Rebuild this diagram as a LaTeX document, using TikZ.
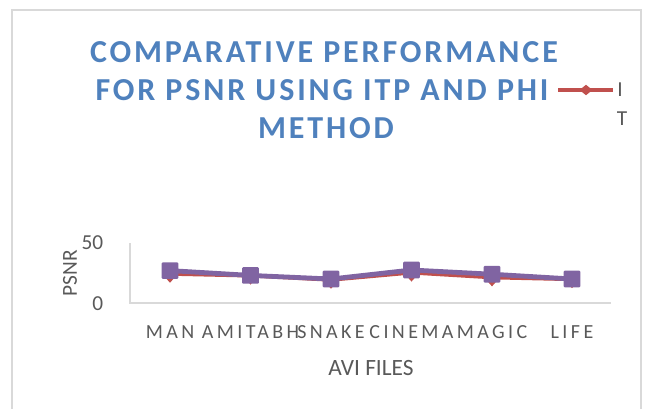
\documentclass[tikz,border=0pt]{standalone}
\usepackage{fontspec}
\setmainfont{Carlito}
\usetikzlibrary{shapes.geometric}
\definecolor{titleblue}{HTML}{4F81BD}
\definecolor{itpred}{HTML}{C0504D}
\definecolor{phipurple}{HTML}{8064A2}
\definecolor{labelgray}{HTML}{595959}
\definecolor{gridgray}{HTML}{D9D9D9}

\begin{document}
\begin{tikzpicture}[x=0.75pt,y=-0.75pt,
  titletext/.style={titleblue,font=\fontsize{24}{28}\selectfont\bfseries\addfontfeature{LetterSpace=9}},
  cattext/.style={labelgray,font=\fontsize{15}{17}\selectfont\addfontfeature{LetterSpace=17}},
  axistext/.style={labelgray,font=\fontsize{16}{18}\selectfont},
  itpmark/.style={diamond,fill=itpred,inner sep=0pt,minimum width=8pt,minimum height=9pt},
  phimark/.style={rectangle,fill=phipurple,rounded corners=0.8pt,inner sep=0pt,minimum size=12.5pt}]
\useasboundingbox (0,0) rectangle (646,408);
\draw[gridgray,line width=1.1pt] (12,10) rectangle (641,425);

\node[titletext] (title1) at (324,52) {COMPARATIVE PERFORMANCE};
\node[titletext] (title2) at (322,90) {FOR PSNR USING ITP AND PHI};
\node[titletext] (title3) at (326,128) {METHOD};

% legend
\coordinate (legA) at (558,90);
\coordinate (legB) at (613,90);
\draw[itpred,line width=2.3pt] (legA) -- (legB);
\node[itpmark,minimum width=10pt,minimum height=8pt] (legmark) at (586,90) {};
\node[labelgray,font=\fontsize{16}{18}\selectfont] (legI) at (620,90) {I};
\node[labelgray,font=\fontsize{16}{18}\selectfont] (legT) at (622,119) {T};

% axes
\coordinate (origin) at (130,303);
\coordinate (ytop) at (130,243);
\coordinate (xend) at (611,303);
\draw[gridgray,line width=1.1pt] (ytop) -- (origin) -- (xend);
\node[axistext,anchor=east] (yfifty) at (108,243) {50};
\node[axistext,anchor=east] (yzero) at (108,304) {0};
\node[axistext,rotate=90] (ylabel) at (70,273) {PSNR};
\node[labelgray,font=\fontsize{17.5}{20}\selectfont] (xlabel) at (371,368) {AVI FILES};

\foreach \name/\xx in {MAN/170,AMITABH/250.5,SNAKE/331,CINEMA/411.5,MAGIC/492,LIFE/572}
  \node[cattext] (cat\name) at (\xx,332) {\name};

% data
\foreach \xx/\r/\p [count=\i] in {170/24/27,250.5/22.5/23,331/19/20,411.5/25/27.5,492/21/24,572/19.5/20}{
  \coordinate (itp\i) at (\xx,303-1.2*\r);
  \coordinate (phi\i) at (\xx,303-1.2*\p);
}
\draw[itpred,line width=2.3pt,line join=round] (itp1) -- (itp2) -- (itp3) -- (itp4) -- (itp5) -- (itp6);
\foreach \i in {1,...,6}
  \node[itpmark,yshift=-2pt] at (itp\i) {};
\draw[phipurple,line width=3.6pt,line join=round] (phi1) -- (phi2) -- (phi3) -- (phi4) -- (phi5) -- (phi6);
\foreach \i in {1,...,6}
  \node[phimark] at (phi\i) {};

\end{tikzpicture}
\end{document}
